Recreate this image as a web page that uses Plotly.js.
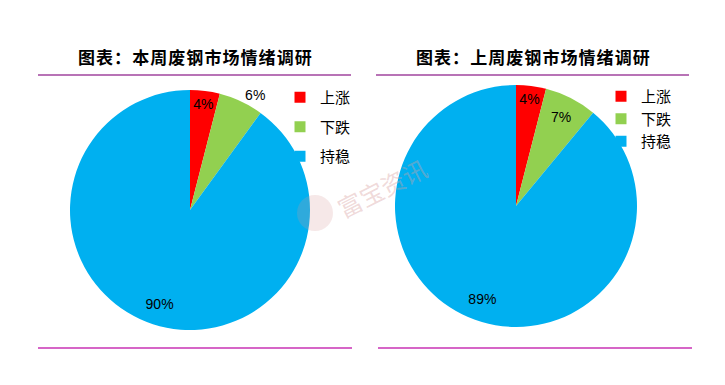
<!DOCTYPE html>
<html><head><meta charset="utf-8">
<script src="https://cdn.plot.ly/plotly-3.0.1.min.js"></script>
<style>html,body{margin:0;padding:0;background:#fff}#chart{width:725px;height:385px}</style>
</head><body><div id="chart"></div>
<script>
const labels = ['上涨', '下跌', '持稳'];
const thisWeek = [4, 6, 90];
const lastWeek = [4, 7, 89];
const colors = ['#FF0000', '#92D050', '#00B0F0'];
const titleLeft = '图表：本周废钢市场情绪调研';
const titleRight = '图表：上周废钢市场情绪调研';
const spaced = s => s.split('').join('\u200A');
const cjk = 'Noto Sans CJK SC, sans-serif';
const latin = 'Liberation Sans, Arial, sans-serif';

const domL = {x:[70/725, 310/725], y:[55/385, 295/385]};
const domR = {x:[395/725, 637/725], y:[58/385, 300/385]};

function pieBase(values, dom) {
  return {type:'pie', labels:labels, values:values, sort:false, direction:'clockwise', rotation:0,
    domain:dom, hoverinfo:'none', showlegend:false, insidetextorientation:'horizontal',
    textfont:{family:latin, size:14, color:'#000'}};
}
const clear = ['rgba(0,0,0,0)','rgba(0,0,0,0)','rgba(0,0,0,0)'];
// main pies: small slices labelled
const pL = Object.assign(pieBase(thisWeek, domL), {
  marker:{colors:colors, line:{width:0}},
  texttemplate: thisWeek.map((v,i)=> i<2 ? v+'%' : ''),
  textposition:['inside','outside','inside']});
const pR = Object.assign(pieBase(lastWeek, domR), {
  marker:{colors:colors, line:{width:0}},
  texttemplate: lastWeek.map((v,i)=> i<2 ? v+'%' : ''),
  textposition:'inside'});
// ring overlays for the big slice's label placement
const rL = Object.assign(pieBase(thisWeek, domL), {
  hole:0.64, marker:{colors:clear, line:{width:0}},
  texttemplate: thisWeek.map((v,i)=> i===2 ? v+'%' : ''), textposition:'inside'});
const rR = Object.assign(pieBase(lastWeek, domR), {
  hole:0.64, marker:{colors:clear, line:{width:0}},
  texttemplate: lastWeek.map((v,i)=> i===2 ? v+'%' : ''), textposition:'inside'});

const legendTraces = [];
['legend','legend2'].forEach(lg => {
  labels.forEach((lab,i) => {
    legendTraces.push({type:'scatter', x:[null], y:[null], mode:'markers', name:lab,
      marker:{symbol:'square', size:11, color:colors[i]}, legend:lg, legendgroup:lg+i,
      showlegend:true, hoverinfo:'none'});
  });
});

const layout = {
  width:725, height:385, margin:{l:0,r:0,t:0,b:0}, paper_bgcolor:'#fff', plot_bgcolor:'rgba(0,0,0,0)',
  font:{family:cjk, color:'#000'},
  xaxis:{visible:false}, yaxis:{visible:false},
  legend:{x:280/725, y:1-81/385, xanchor:'left', yanchor:'top', tracegroupgap:7, font:{family:cjk,size:15,color:'#000'}, bgcolor:'rgba(0,0,0,0)'},
  legend2:{x:601/725, y:1-80/385, xanchor:'left', yanchor:'top', tracegroupgap:0, font:{family:cjk,size:15,color:'#000'}, bgcolor:'rgba(0,0,0,0)'},
  shapes:[
    {type:'line', xref:'paper', yref:'paper', x0:38/725, x1:351/725, y0:1-75/385, y1:1-75/385, line:{color:'#A0449E', width:1.5}},
    {type:'line', xref:'paper', yref:'paper', x0:376/725, x1:689/725, y0:1-75/385, y1:1-75/385, line:{color:'#A0449E', width:1.5}},
    {type:'line', xref:'paper', yref:'paper', x0:38/725, x1:352/725, y0:1-348/385, y1:1-348/385, line:{color:'#C832B4', width:1.5}},
    {type:'line', xref:'paper', yref:'paper', x0:378/725, x1:692/725, y0:1-348/385, y1:1-348/385, line:{color:'#C832B4', width:1.5}},
    {type:'circle', xref:'paper', yref:'paper', x0:297/725, x1:333/725, y0:1-231/385, y1:1-195/385, fillcolor:'rgba(215,150,150,0.22)', line:{width:0}, layer:'above'}
  ],
  annotations:[
    {text:spaced(titleLeft), xref:'paper', yref:'paper', x:195/725, y:1-57/385, xanchor:'center', yanchor:'middle', showarrow:false, font:{family:cjk,size:17,color:'#000',weight:'bold'}},
    {text:spaced(titleRight), xref:'paper', yref:'paper', x:533/725, y:1-57/385, xanchor:'center', yanchor:'middle', showarrow:false, font:{family:cjk,size:17,color:'#000',weight:'bold'}},
    {text:'富宝资讯', xref:'paper', yref:'paper', x:382/725, y:1-188/385, xanchor:'center', yanchor:'middle', showarrow:false, textangle:-27, font:{family:cjk,size:24,color:'rgba(215,160,160,0.4)'}}
  ]
};
Plotly.newPlot('chart', [pL, pR, rL, rR].concat(legendTraces), layout, {displayModeBar:false, staticPlot:true});
</script></body></html>
